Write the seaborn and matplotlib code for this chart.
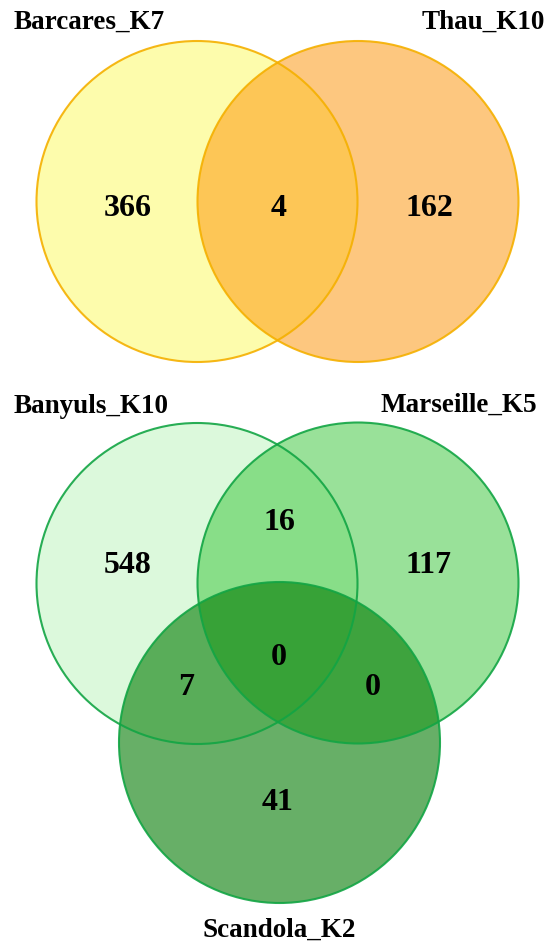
import matplotlib
matplotlib.use("Agg")
import matplotlib.pyplot as plt
from matplotlib.patches import Circle
import seaborn as sns

# two-set diagram
top_names = ["Barcares_K7", "Thau_K10"]
top_counts = [366, 4, 162]  # only A, A&B, only B
top_fills = ["#FDFB5B", "#FD9101"]
top_alphas = [0.5, 0.5]
top_edge = "#F5B000"

# three-set diagram
bottom_names = ["Banyuls_K10", "Marseille_K5", "Scandola_K2"]
bottom_counts = [548, 16, 117, 7, 0, 0, 41]  # A, AB, B, AC, ABC, BC, C
bottom_fills = ["#BBF5BB", "#35C535", "#027B02"]
bottom_alphas = [0.5, 0.5, 0.6]
bottom_edge = "#12A544"

# layout in pixel units (figure is 547 x 943)
W, H = 547, 943
R = 160.5
top_centers = [(197, 201.5), (358, 201.5)]
bottom_centers = [(197, 583.5), (358, 583), (279.5, 742.5)]
top_count_xy = [(128, 216.5), (279, 216.5), (429, 216.5)]
bottom_count_xy = [(128, 573), (279, 530), (428, 573), (186, 695),
                   (278.5, 665), (373, 695), (278, 810)]
top_name_xy = [(14, 29, "left"), (545, 29, "right")]
bottom_name_xy = [(14, 413, "left"), (537, 412, "right"), (279, 937, "center")]

sns.set_theme(style="white")
plt.rcParams['font.family'] = ['Liberation Serif', 'DejaVu Serif']

fig = plt.figure(figsize=(W / 100, H / 100), dpi=100)
ax = fig.add_axes([0, 0, 1, 1])
ax.set_xlim(0, W)
ax.set_ylim(H, 0)
ax.set_aspect("equal")
ax.axis("off")


def draw_venn(centers, fills, alphas, edge, names, name_xy, counts, count_xy):
    for (cx, cy), fc, a in zip(centers, fills, alphas):
        ax.add_patch(Circle((cx, cy), R, facecolor=fc, alpha=a, edgecolor="none"))
    for cx, cy in centers:
        ax.add_patch(Circle((cx, cy), R, facecolor="none", edgecolor=edge, lw=1.5, alpha=0.9))
    for name, (x, y, ha) in zip(names, name_xy):
        ax.text(x, y, name, ha=ha, va="baseline", fontsize=19.5, fontweight="bold", color="black")
    for n, (x, y) in zip(counts, count_xy):
        ax.text(x, y, str(n), ha="center", va="baseline", fontsize=23, fontweight="bold", color="black")


draw_venn(top_centers, top_fills, top_alphas, top_edge, top_names, top_name_xy,
          top_counts, top_count_xy)
draw_venn(bottom_centers, bottom_fills, bottom_alphas, bottom_edge, bottom_names,
          bottom_name_xy, bottom_counts, bottom_count_xy)

fig.savefig("out.png", dpi=100, facecolor="white")
